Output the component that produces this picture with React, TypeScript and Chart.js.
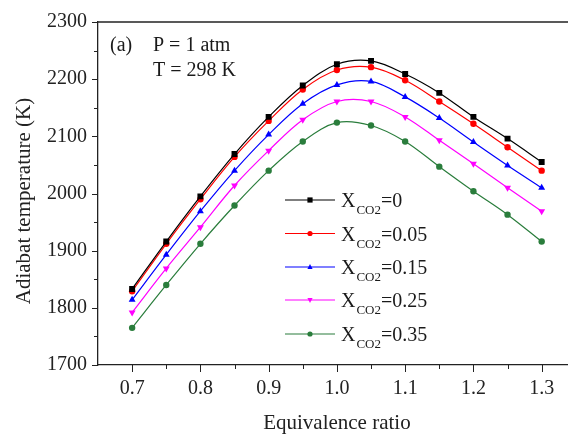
import React, { useEffect, useRef } from 'react';
import { Chart, registerables } from 'chart.js';

Chart.register(...registerables);

const equivalenceRatio = [0.7, 0.75, 0.8, 0.85, 0.9, 0.95, 1.0, 1.05, 1.1, 1.15, 1.2, 1.25, 1.3];
const tempX0 = [1833, 1916, 1995, 2069, 2134, 2189, 2226, 2232, 2209, 2176, 2134, 2096, 2055];
const tempX005 = [1829, 1912, 1990, 2064, 2127, 2182, 2216, 2221, 2198, 2161, 2122, 2081, 2040];
const tempX015 = [1814, 1893, 1969, 2040, 2103, 2157, 2190, 2196, 2169, 2132, 2090, 2049, 2010];
const tempX025 = [1792, 1869, 1941, 2014, 2075, 2129, 2161, 2161, 2134, 2093, 2052, 2010, 1969];
const tempX035 = [1765, 1840, 1912, 1979, 2040, 2091, 2124, 2119, 2091, 2047, 2004, 1963, 1916];

const seriesValues = ['0', '0.05', '0.15', '0.25', '0.35'];
const seriesData = [tempX0, tempX005, tempX015, tempX025, tempX035];
const seriesColors = ['#000000', '#ff0000', '#0000ff', '#ff00ff', '#2a7d3c'];
const seriesMarkers = ['rect', 'circle', 'triangle', 'triangleDown', 'circle'];

const xTickValues = [0.7, 0.8, 0.9, 1.0, 1.1, 1.2, 1.3];
const yTickValues = [1700, 1800, 1900, 2000, 2100, 2200, 2300];

const xTitle = 'Equivalence ratio';
const yTitle = 'Adiabat temperature (K)';

const FONT = "'Liberation Serif', 'Times New Roman', serif";

function drawMarker(ctx: CanvasRenderingContext2D, kind: string, x: number, y: number, r: number, color: string) {
  ctx.save();
  ctx.fillStyle = color;
  ctx.beginPath();
  if (kind === 'rect') {
    ctx.rect(x - r, y - r, 2 * r, 2 * r);
  } else if (kind === 'circle') {
    ctx.arc(x, y, r, 0, Math.PI * 2);
  } else if (kind === 'triangle') {
    ctx.moveTo(x, y - r * 1.15);
    ctx.lineTo(x + r, y + r * 0.75);
    ctx.lineTo(x - r, y + r * 0.75);
    ctx.closePath();
  } else if (kind === 'triangleDown') {
    ctx.moveTo(x, y + r * 1.15);
    ctx.lineTo(x + r, y - r * 0.75);
    ctx.lineTo(x - r, y - r * 0.75);
    ctx.closePath();
  }
  ctx.fill();
  ctx.restore();
}

const decorPlugin = {
  id: 'decor',
  afterDatasetsDraw(chart: any) {
    const { ctx, chartArea, scales } = chart;
    const xs = scales.x;
    const ys = scales.y;
    ctx.save();
    ctx.strokeStyle = '#222';
    ctx.lineWidth = 1.3;
    // top frame
    ctx.beginPath();
    ctx.moveTo(chartArea.left, chartArea.top);
    ctx.lineTo(chartArea.right, chartArea.top);
    ctx.stroke();
    ctx.lineWidth = 1;
    // x ticks
    const xMinor: number[] = [];
    for (let i = 0; i < xTickValues.length - 1; i++) xMinor.push((xTickValues[i] + xTickValues[i + 1]) / 2);
    xMinor.push(xTickValues[xTickValues.length - 1] + 0.05);
    xTickValues.forEach((v) => {
      const px = Math.round(xs.getPixelForValue(v)) + 0.5;
      ctx.beginPath();
      ctx.moveTo(px, chartArea.bottom);
      ctx.lineTo(px, chartArea.bottom + 7);
      ctx.stroke();
    });
    xMinor.forEach((v) => {
      const px = Math.round(xs.getPixelForValue(v)) + 0.5;
      ctx.beginPath();
      ctx.moveTo(px, chartArea.bottom);
      ctx.lineTo(px, chartArea.bottom + 4);
      ctx.stroke();
    });
    // y ticks
    const yMinor: number[] = [];
    for (let i = 0; i < yTickValues.length - 1; i++) yMinor.push((yTickValues[i] + yTickValues[i + 1]) / 2);
    yTickValues.forEach((v) => {
      const py = Math.round(ys.getPixelForValue(v)) + 0.5;
      ctx.beginPath();
      ctx.moveTo(chartArea.left - 6, py);
      ctx.lineTo(chartArea.left, py);
      ctx.stroke();
    });
    yMinor.forEach((v) => {
      const py = Math.round(ys.getPixelForValue(v)) + 0.5;
      ctx.beginPath();
      ctx.moveTo(chartArea.left - 4, py);
      ctx.lineTo(chartArea.left, py);
      ctx.stroke();
    });

    // y axis title
    ctx.fillStyle = '#222';
    ctx.save();
    ctx.translate(24, 201);
    ctx.rotate(-Math.PI / 2);
    ctx.font = `21px ${FONT}`;
    ctx.textAlign = 'center';
    ctx.textBaseline = 'middle';
    ctx.fillText(yTitle, 0, 0);
    ctx.restore();

    // annotations
    ctx.fillStyle = '#1a1a1a';
    ctx.font = `20px ${FONT}`;
    ctx.textBaseline = 'alphabetic';
    ctx.textAlign = 'left';
    ctx.fillText('(a)', chartArea.left + 12, chartArea.top + 29);
    ctx.fillText('P = 1 atm', chartArea.left + 55, chartArea.top + 29);
    ctx.fillText('T = 298 K', chartArea.left + 55, chartArea.top + 54);

    // legend
    const rowY = [200, 233.5, 267, 300, 334];
    const lineL = 285;
    const lineR = 335;
    seriesValues.forEach((val, i) => {
      const y = rowY[i];
      ctx.strokeStyle = seriesColors[i];
      ctx.lineWidth = 1.2;
      ctx.beginPath();
      ctx.moveTo(lineL, y);
      ctx.lineTo(lineR, y);
      ctx.stroke();
      drawMarker(ctx, seriesMarkers[i], (lineL + lineR) / 2, y, 2.6, seriesColors[i]);
      ctx.fillStyle = '#1a1a1a';
      ctx.font = `20px ${FONT}`;
      let tx = 341;
      ctx.fillText('X', tx, y + 7);
      tx += ctx.measureText('X').width + 1;
      ctx.font = `13px ${FONT}`;
      ctx.fillText('CO2', tx, y + 14);
      tx += ctx.measureText('CO2').width;
      ctx.font = `20px ${FONT}`;
      ctx.fillText('=' + val, tx, y + 7);
    });
    ctx.restore();
  },
};

export default function App() {
  const canvasRef = useRef<HTMLCanvasElement | null>(null);

  useEffect(() => {
    if (!canvasRef.current) return;
    const datasets = seriesValues.map((val, i) => ({
      label: 'X_CO2=' + val,
      data: equivalenceRatio.map((x, j) => ({ x, y: seriesData[i][j] })),
      borderColor: seriesColors[i],
      backgroundColor: seriesColors[i],
      borderWidth: 1.2,
      pointStyle: seriesMarkers[i] === 'triangleDown' ? 'triangle' : seriesMarkers[i],
      rotation: seriesMarkers[i] === 'triangleDown' ? 180 : 0,
      pointRadius: seriesMarkers[i] === 'rect' ? 4.2 : seriesMarkers[i] === 'circle' ? 3.2 : 4,
      pointBorderWidth: 0,
      tension: 0.35,
      fill: false,
    }));

    const chart = new Chart(canvasRef.current, {
      type: 'line',
      data: { datasets },
      options: {
        animation: false,
        responsive: true,
        maintainAspectRatio: false,
        layout: { padding: { left: 0, top: 22, right: 4, bottom: 0 } },
        plugins: {
          legend: { display: false },
          tooltip: { enabled: false },
        },
        scales: {
          x: {
            type: 'linear',
            min: 0.65,
            max: 1.35,
            afterBuildTicks: (scale: any) => {
              scale.ticks = xTickValues.map((v) => ({ value: v }));
            },
            afterFit: (scale: any) => {
              scale.height = 69;
            },
            grid: { display: false },
            border: { display: true, color: '#222', width: 1.3 },
            ticks: {
              padding: 4,
              color: '#222',
              font: { family: FONT, size: 20 },
              callback: (v: any) => Number(v).toFixed(1),
            },
            title: {
              display: true,
              text: xTitle,
              color: '#222',
              font: { family: FONT, size: 21, lineHeight: 1 },
              padding: { top: 0, bottom: 0 },
            },
          },
          y: {
            type: 'linear',
            min: 1700,
            max: 2300,
            afterBuildTicks: (scale: any) => {
              scale.ticks = yTickValues.map((v) => ({ value: v }));
            },
            afterFit: (scale: any) => {
              scale.width = 98;
            },
            grid: { display: false },
            border: { display: true, color: '#222', width: 1.3 },
            ticks: {
              padding: 3,
              color: '#222',
              font: { family: FONT, size: 20 },
              callback: (v: any) => String(v),
            },
            title: { display: false },
          },
        },
      },
      plugins: [decorPlugin],
    } as any);

    return () => chart.destroy();
  }, []);

  return (
    <div style={{ position: 'fixed', left: 0, top: 0, width: 568, height: 434, overflow: 'hidden', background: '#fff' }}>
      <div style={{ position: 'relative', width: 580, height: 434 }}>
        <canvas ref={canvasRef} />
      </div>
    </div>
  );
}
